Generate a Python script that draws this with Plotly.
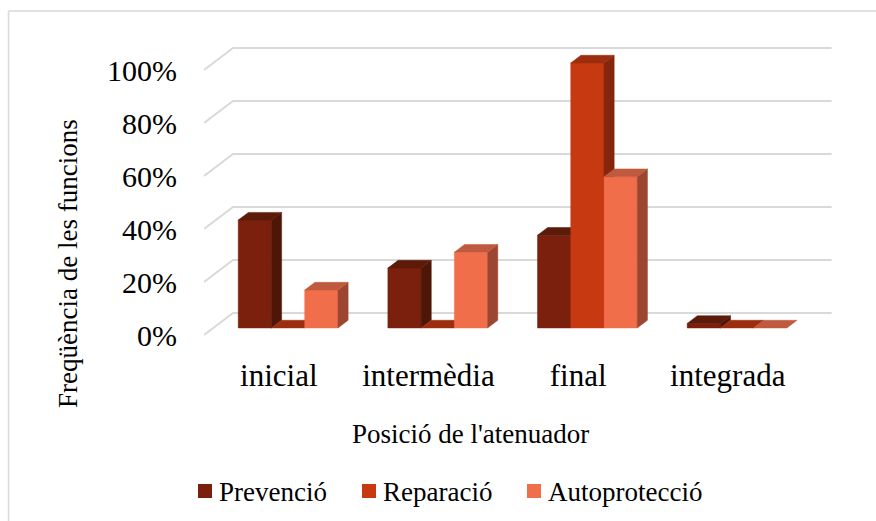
import plotly.graph_objects as go

# ---- data -------------------------------------------------------------
categories = ["inicial", "intermèdia", "final", "integrada"]
series_names = ["Prevenció", "Reparació", "Autoprotecció"]
prevencio = [40.7, 22.6, 35.0, 1.7]
reparacio = [0.0, 0.0, 100.0, 0.0]
autoproteccio = [14.3, 28.6, 57.1, 0.0]
y_ticks = [0, 20, 40, 60, 80, 100]

series_values = [prevencio, reparacio, autoproteccio]

# face colours per series: front, top, side
face_colors = [
    ("#7B200C", "#5C1A09", "#4E1607"),
    ("#C73911", "#9C2D0E", "#84250C"),
    ("#F06E4A", "#BF5A3E", "#9C4631"),
]

# ---- layout geometry ---------------------------------------------------
W, H = 876, 521
ML, MR, MT = 204, 36, 40
PLOT_BOTTOM = 340           # pixel row of the plot-area bottom
ZERO_ROW = 335              # pixel row of 0 % on the front plane
PX_PER_PCT = 2.65
X_RANGE = [-0.5, 3.75]
plot_w = W - ML - MR
plot_h = PLOT_BOTTOM - MT
px_per_cat = plot_w / (X_RANGE[1] - X_RANGE[0])
y_low = -(PLOT_BOTTOM - ZERO_ROW) / PX_PER_PCT
Y_RANGE = [y_low, y_low + plot_h / PX_PER_PCT]

# oblique depth projection (full floor depth)
DEPTH_X = 29 / px_per_cat
DEPTH_Y = 22 / PX_PER_PCT
Z_FRONT, Z_BACK = 0.32, 0.67       # bar slab within the floor depth
GROUP_SPAN = 2 / 3                 # share of a category used by the bars
bar_w = GROUP_SPAN / len(series_names)


def paper_x(px):
    return (px - ML) / plot_w


def paper_y(py):
    return (PLOT_BOTTOM - py) / plot_h


fig = go.Figure()

# back wall and side wall gridlines
grid_color = "#D9D9D9"
for t in y_ticks:
    fig.add_trace(go.Scatter(
        x=[X_RANGE[0], X_RANGE[0] + DEPTH_X, 3.5 + DEPTH_X],
        y=[t, t + DEPTH_Y, t + DEPTH_Y],
        mode="lines", line=dict(color=grid_color, width=2),
        hoverinfo="skip", showlegend=False))


def add_face(xs, ys, color):
    fig.add_trace(go.Scatter(
        x=xs + [xs[0]], y=ys + [ys[0]], mode="lines", fill="toself",
        fillcolor=color, line=dict(color=color, width=0.5),
        hoverinfo="skip", showlegend=False))


dxs = (Z_BACK - Z_FRONT) * DEPTH_X
dys = (Z_BACK - Z_FRONT) * DEPTH_Y
for ci, _ in enumerate(categories):
    for si, vals in enumerate(series_values):
        v = vals[ci]
        front, top, side = face_colors[si]
        xl = ci - GROUP_SPAN / 2 + si * bar_w + Z_FRONT * DEPTH_X
        xr = xl + bar_w
        yb = Z_FRONT * DEPTH_Y
        yt = v + yb
        if v > 0:
            add_face([xl, xr, xr, xl], [yb, yb, yt, yt], front)
            add_face([xr, xr + dxs, xr + dxs, xr],
                     [yb, yb + dys, yt + dys, yt], side)
        add_face([xl, xr, xr + dxs, xl + dxs],
                 [yt, yt, yt + dys, yt + dys], top)

font_family = "Liberation Serif"

# legend row: colour key squares followed by the series names
LEGEND_ROW = 491
LEGEND_KEY_X = [198, 362, 527]
KEY_SIZE = 14
shapes = []
annotations = []
for si, name in enumerate(series_names):
    kx = LEGEND_KEY_X[si]
    shapes.append(dict(
        type="rect", xref="paper", yref="paper",
        x0=paper_x(kx), x1=paper_x(kx + KEY_SIZE),
        y0=paper_y(LEGEND_ROW + KEY_SIZE / 2),
        y1=paper_y(LEGEND_ROW - KEY_SIZE / 2),
        fillcolor=face_colors[si][0], line=dict(width=0)))
    annotations.append(dict(
        text=name, xref="paper", yref="paper",
        x=paper_x(kx + KEY_SIZE + 5), y=paper_y(LEGEND_ROW + 1),
        xanchor="left", yanchor="middle", showarrow=False,
        font=dict(size=27, family=font_family, color="#000000")))

annotations += [
    dict(text="Posició de l'atenuador", xref="paper", yref="paper",
         x=paper_x(470), y=paper_y(434), xanchor="center",
         yanchor="middle", showarrow=False,
         font=dict(size=27, family=font_family, color="#000000")),
    dict(text="Freqüència de les funcions", xref="paper", yref="paper",
         x=paper_x(68), y=paper_y(264), xanchor="center",
         yanchor="middle", textangle=-90, showarrow=False,
         font=dict(size=27, family=font_family, color="#000000")),
]

# chart frame (top and left edges)
shapes += [
    dict(type="line", xref="paper", yref="paper",
         x0=paper_x(8.5), y0=paper_y(11), x1=paper_x(W + 5), y1=paper_y(11),
         line=dict(color="#D9D9D9", width=1.5)),
    dict(type="line", xref="paper", yref="paper",
         x0=paper_x(8.5), y0=paper_y(11), x1=paper_x(8.5), y1=paper_y(H + 5),
         line=dict(color="#D9D9D9", width=1.5)),
]

fig.update_layout(
    width=W, height=H,
    margin=dict(l=ML, r=MR, t=MT, b=H - PLOT_BOTTOM, autoexpand=False),
    paper_bgcolor="white", plot_bgcolor="white",
    font=dict(family=font_family, color="#000000"),
    xaxis=dict(range=X_RANGE, tickmode="array",
               tickvals=list(range(len(categories))), ticktext=categories,
               showgrid=False, zeroline=False, showline=False,
               ticks="", ticklabelstandoff=14,
               tickfont=dict(size=31, family=font_family, color="#000000")),
    yaxis=dict(range=Y_RANGE, tickmode="array", tickvals=y_ticks,
               ticktext=[f"{t}%" for t in y_ticks],
               showgrid=False, zeroline=False, showline=False,
               ticks="", ticklabelstandoff=26,
               tickfont=dict(size=30, family=font_family, color="#000000")),
    showlegend=False,
    annotations=annotations,
    shapes=shapes,
)

fig.write_html("out.html")
